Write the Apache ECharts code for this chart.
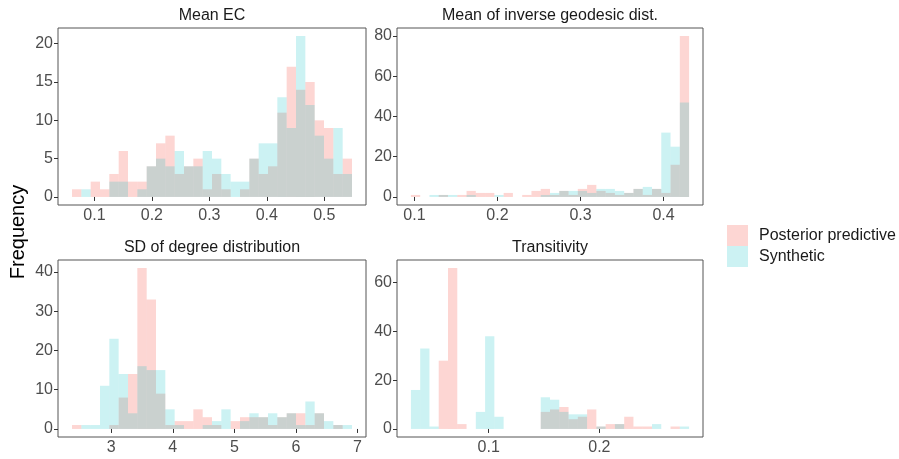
<!DOCTYPE html>
<html>
<head>
<meta charset="utf-8">
<script src="https://cdn.jsdelivr.net/npm/echarts@6/dist/echarts.min.js"></script>
<style>
  html, body { margin: 0; padding: 0; background: #ffffff; }
  #chart { width: 899px; height: 459px; }
</style>
</head>
<body>
<div id="chart"></div>
<script>
// Histogram counts per bin (30 shared bins per panel)
const seriesNames = ['Posterior predictive', 'Synthetic'];

// Mean EC
const ecBinStart = 0.061, ecBinWidth = 0.01624;
const ecPosterior = [1,0,2,1,3,6,2,2,4,7,8,3,4,5,1,3,1,0,1,5,3,4,11,17,14,15,10,9,3,5];
const ecSynthetic = [0,1,0,0,2,2,0,1,4,5,4,6,4,4,6,5,3,2,2,5,7,7,13,9,21,12,8,5,9,3];
const ecTicksX = [0.1, 0.2, 0.3, 0.4, 0.5];
const ecTicksY = [0, 5, 10, 15, 20];

// Mean of inverse geodesic distance
const igBinStart = 0.0957, igBinWidth = 0.01117;
const igPosterior = [1,0,0,1,0,1,3,2,2,0,2,0,1,3,4,1,3,1,4,6,3,2,1,2,4,1,4,2,16,80];
const igSynthetic = [0,0,1,1,1,0,1,0,0,1,0,0,0,0,1,2,3,3,3,2,4,4,3,2,4,5,4,32,25,47];
const igTicksX = [0.1, 0.2, 0.3, 0.4];
const igTicksY = [0, 20, 40, 60, 80];

// SD of degree distribution
const sdBinStart = 2.363, sdBinWidth = 0.1516;
const sdPosterior = [1,0,0,0,1,8,14,41,33,9,1,2,2,5,3,1,0,2,3,3,3,1,3,4,4,1,4,0,1,0];
const sdSynthetic = [0,1,1,11,23,14,4,16,15,15,5,1,0,0,1,2,5,0,2,4,3,4,3,4,1,7,4,2,1,1];
const sdTicksX = [3, 4, 5, 6, 7];
const sdTicksY = [0, 10, 20, 30, 40];

// Transitivity
const trBinStart = 0.0297, trBinWidth = 0.00838;
const trPosterior = [0,0,0,28,66,2,0,0,0,0,0,0,0,0,7,8,9,4,5,8,1,2,2,5,1,1,0,0,1,0];
const trSynthetic = [16,33,1,0,0,0,0,7,38,5,0,0,0,0,13,12,7,6,6,0,1,0,2,0,0,0,2,0,0,1];
const trTicksX = [0.1, 0.2];
const trTicksY = [0, 20, 40, 60];

const panels = [
  { title: 'Mean EC', start: ecBinStart, width: ecBinWidth, a: ecPosterior, b: ecSynthetic,
    tx: ecTicksX, ty: ecTicksY, grid: { left: 58, top: 28, width: 308, height: 177 } },
  { title: 'Mean of inverse geodesic dist.', start: igBinStart, width: igBinWidth, a: igPosterior, b: igSynthetic,
    tx: igTicksX, ty: igTicksY, grid: { left: 397, top: 28, width: 306, height: 177 } },
  { title: 'SD of degree distribution', start: sdBinStart, width: sdBinWidth, a: sdPosterior, b: sdSynthetic,
    tx: sdTicksX, ty: sdTicksY, grid: { left: 58, top: 260, width: 308, height: 177 } },
  { title: 'Transitivity', start: trBinStart, width: trBinWidth, a: trPosterior, b: trSynthetic,
    tx: trTicksX, ty: trTicksY, grid: { left: 397, top: 260, width: 306, height: 177 } }
];

const colorPosterior = 'rgba(248,118,109,0.30)';
const colorSynthetic = 'rgba(0,191,196,0.20)';
const fontFamily = '"Liberation Sans", Arial, Helvetica, sans-serif';
const tickColor = '#4d4d4d';
const baseSize = 16;

function binData(start, width, counts) {
  return counts.map((c, i) => [start + i * width, start + (i + 1) * width, c]);
}

function renderBin(params, api) {
  const h = api.value(2);
  if (!h) return null;
  const p0 = api.coord([api.value(0), h]);
  const p1 = api.coord([api.value(1), 0]);
  return {
    type: 'rect',
    shape: { x: p0[0], y: p0[1], width: p1[0] - p0[0], height: p1[1] - p0[1] },
    style: { fill: api.visual('color') }
  };
}

const grids = [], xAxes = [], yAxes = [], series = [], graphics = [];

panels.forEach((p, k) => {
  const n = p.a.length;
  const xLo = p.start, xHi = p.start + n * p.width;
  const xPad = (xHi - xLo) * 0.05;
  const yMax = Math.max(...p.a, ...p.b);
  const yPad = yMax * 0.05;

  grids.push(Object.assign({ show: true, borderColor: '#555555', borderWidth: 1, containLabel: false }, p.grid));

  xAxes.push({
    type: 'value', gridIndex: k, min: xLo - xPad, max: xHi + xPad,
    axisLine: { show: false }, splitLine: { show: false },
    axisTick: { show: true, length: 4, customValues: p.tx, lineStyle: { color: '#333333', width: 1 } },
    axisLabel: { customValues: p.tx, color: tickColor, fontSize: baseSize, fontFamily: fontFamily, margin: 3 }
  });
  yAxes.push({
    type: 'value', gridIndex: k, min: -yPad, max: yMax + yPad,
    axisLine: { show: false }, splitLine: { show: false },
    axisTick: { show: true, length: 4, customValues: p.ty, lineStyle: { color: '#333333', width: 1 } },
    axisLabel: { customValues: p.ty, color: tickColor, fontSize: baseSize, fontFamily: fontFamily, margin: 5 }
  });

  [[p.a, colorPosterior, seriesNames[0]], [p.b, colorSynthetic, seriesNames[1]]].forEach(([counts, color, name]) => {
    series.push({
      type: 'custom', name: name, xAxisIndex: k, yAxisIndex: k,
      renderItem: renderBin,
      itemStyle: { color: color },
      encode: { x: [0, 1], y: 2 },
      data: binData(p.start, p.width, counts),
      silent: true
    });
  });

  graphics.push({
    type: 'text',
    x: p.grid.left + p.grid.width / 2,
    y: p.grid.top - 12,
    style: { text: p.title, textAlign: 'center', textVerticalAlign: 'middle',
             fontSize: baseSize, fontFamily: fontFamily, fill: '#1a1a1a' }
  });
});

graphics.push({
  type: 'text', x: 18, y: 232, rotation: Math.PI / 2,
  style: { text: 'Frequency', textAlign: 'center', textVerticalAlign: 'middle',
           fontSize: 20, fontFamily: fontFamily, fill: '#000000' }
});

const chart = echarts.init(document.getElementById('chart'), null, { renderer: 'canvas' });
chart.setOption({
  backgroundColor: '#ffffff',
  animation: false,
  grid: grids,
  xAxis: xAxes,
  yAxis: yAxes,
  series: series,
  graphic: graphics,
  legend: {
    data: seriesNames, orient: 'vertical', left: 727, top: 225,
    itemWidth: 21, itemHeight: 21, itemGap: 0, icon: 'rect', padding: 0,
    selectedMode: false,
    textStyle: { fontSize: baseSize, fontFamily: fontFamily, color: '#1a1a1a', padding: [0, 0, 0, 6] }
  }
});
</script>
</body>
</html>
